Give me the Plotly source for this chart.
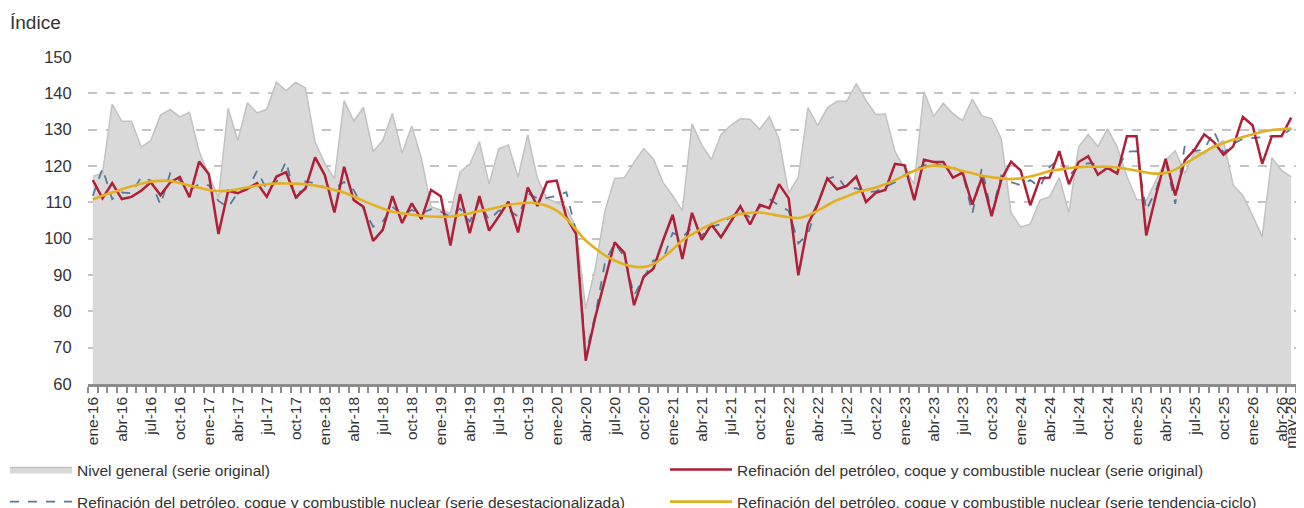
import plotly.graph_objects as go

# months ene-16 .. may-26
MESES = ["ene", "feb", "mar", "abr", "may", "jun", "jul", "ago", "sep", "oct", "nov", "dic"]
months = [f"{MESES[m]}-{y % 100:02d}" for y in range(2016, 2027) for m in range(12)][:125]

nivel_general = [
    117.1, 118, 137, 132.3, 132.3, 125.2, 127, 134, 135.6, 133.5, 134.8, 124,
    117.5, 111.2, 135.9, 127, 137.4, 134.6, 135.6, 143.1, 140.7, 143.1, 141.5, 126.5,
    120.8, 116.5, 138, 132.4, 136.1, 124, 127, 134.5, 123.5, 131, 122.1, 108.8,
    107.9, 107, 118.4, 120.5, 126.7, 115, 124.7, 125.8, 116.9, 128.6, 116.6, 111,
    110, 108.5, 103, 80.7, 92, 107.7, 116.6, 116.8, 121, 124.8, 122, 115.5,
    111.8, 107.7, 131.6, 125.8, 121.8, 128.6, 131.2, 133, 132.9, 130.1, 133.6, 127.4,
    112.5, 116.9, 136.1, 131.1, 136, 137.8, 137.8, 142.7, 138.1, 134.2, 134.3, 124,
    119.2, 115.1, 140.5, 133.6, 137.3, 134.4, 132.5, 138.4, 133.8, 133, 127.5, 107.2,
    103.2, 104, 110.6, 111.5, 116.8, 107.2, 125.2, 128.7, 125.4, 130.2, 125.2, 117.2,
    110.8, 110.5, 116, 121.6, 124.2, 117.9, 123.9, 123.4, 125.7, 126.9, 114.7, 111.9,
    106.4, 100.5, 122.3, 118.8, 117,
]

refino_original = [
    116.1, 111.1, 115.3, 110.9, 111.5, 113.2, 115.5, 112, 115.5, 117, 111.4, 121.2,
    117.8, 101.3, 113.2, 112.5, 113.8, 115.3, 111.5, 117.1, 118.3, 111.4, 113.8, 122.4,
    117.5, 107.2, 119.8, 110.6, 108.8, 99.4, 102.4, 111.7, 104.3, 109.7, 105.4, 113.4,
    111.7, 98.1, 112.3, 101.5, 111.7, 102.2, 106.1, 110.2, 101.7, 114.1, 109, 115.6,
    116, 105.9, 101.3, 66.4, 78.5, 89, 99, 96.1, 81.7, 89.6, 91.7, 99.5,
    106.6, 94.4, 107.1, 99.7, 103.9, 100.4, 104.8, 108.9, 103.9, 109.3, 108.4, 115,
    111.1, 89.9, 104, 109.5, 116.6, 113.6, 114.5, 117.1, 110.1, 112.6, 113.4, 120.6,
    120.2, 110.6, 121.7, 121.1, 121.1, 116.8, 118.2, 109.4, 116.8, 106.2, 116.2, 121.2,
    118.8, 109.2, 116.6, 116.8, 124.1, 115, 121.1, 122.7, 117.6, 119.5, 117.9, 128.2,
    128.2, 100.9, 111.9, 122, 111.9, 121.6, 124.5, 128.7, 126.6, 123.1, 125.4, 133.5,
    131.2, 120.6, 128.2, 128.2, 133.3,
]

refino_desest = [
    111.8, 119.3, 110.9, 112.7, 112.5, 116.9, 116, 109.3, 118, 116, 113.2, 115,
    114.7, 110.4, 108.6, 112.7, 113.5, 118.7, 113.5, 115.5, 121.3, 110.5, 115.8, 115.2,
    114.1, 113.8, 115.6, 113.4, 108.3, 103.3, 104.7, 108.8, 106.5, 107.9, 107, 108.1,
    107.4, 106.1, 108.3, 104.7, 110.2, 105.1, 107.7, 107.9, 106.1, 112.5, 111.1, 111.2,
    111.8, 112.8, 102, 68.1, 79, 93.5, 98.8, 95, 84.4, 89, 94, 94.1,
    101.6, 100.4, 103.1, 100.9, 103.3, 104, 106, 107.5, 105.9, 108.6, 110.9, 109.1,
    107.7, 98.7, 101.3, 109.5, 116.4, 117.3, 113.6, 113.9, 112.7, 113, 114.3, 115.5,
    117.6, 119, 120.1, 120.9, 120, 119.6, 118.3, 106.9, 119.5, 106.9, 117.4, 115.6,
    114.7, 116.1, 114.2, 119.7, 122, 117.4, 119.9, 120.8, 120.6, 119.3, 119.3, 123.9,
    124.1, 107.8, 113.3, 121.6, 109.6, 125.7, 124.1, 124.5, 129.6, 123.6, 126.1, 127.5,
    127.7, 128, 128.2, 128.2, 130.3,
]

refino_tendencia = [
    110.8, 111.8, 112.7, 113.6, 114.4, 115.1, 115.7, 115.9, 115.9, 115.3, 114.6, 114,
    113.4, 113.1, 113.2, 113.6, 114.1, 114.6, 115, 115.2, 115.2, 115.1, 115, 114.6,
    114.1, 113.4, 112.7, 111.6, 110.4, 109.3, 108.3, 107.4, 107, 106.6, 106.3, 106.1,
    106, 106.1, 106.5, 107, 107.6, 108.1, 108.7, 109.3, 109.7, 109.9, 109.7, 109,
    107.7, 105.5, 102.5, 99.5, 97.3, 95.4, 94, 92.9, 92.3, 92.2, 93, 94.8,
    97, 99.5, 101.2, 102.7, 104, 105.1, 106, 106.8, 107.1, 107.2, 106.8, 106.3,
    105.9, 105.7, 106.4, 107.7, 109.2, 110.6, 111.6, 112.7, 113.4, 114.1, 115, 116.1,
    117.4, 118.7, 119.6, 120.1, 119.9, 119.4, 118.6, 118, 117.3, 116.9, 116.6, 116.4,
    116.6, 117.1, 117.8, 118.6, 119, 119.4, 119.7, 119.8, 119.8, 119.8, 119.6, 119.2,
    118.7, 118.2, 117.9, 118.1, 119, 120.6, 122.2, 123.8, 125.3, 126.3, 127.2, 128,
    128.7, 129.4, 129.9, 130.2, 130.3,
]

FONT = "Liberation Sans"
TXT = "#333333"

x = list(range(len(months)))
# labels every quarter plus the last month
tick_idx = [i for i in x if i % 3 == 0] + [len(months) - 1]
tick_txt = [months[i] for i in tick_idx]

# page has an 8px body margin, so everything is laid out 8px up/left
L, T, R, B = 80, 49, 1289, 376
W, H = 1304, 508
def px(v):
    return (v - L) / (R - L)
def py(v):
    return (B - v) / (B - T)

fig = go.Figure()

fig.add_trace(go.Scatter(
    x=x, y=nivel_general, name="Nivel general (serie original)",
    mode="lines", fill="tozeroy", fillcolor="#d9d9d9",
    line=dict(color="#c2c2c2", width=1.5), legend="legend",
))
fig.add_trace(go.Scatter(
    x=x, y=refino_desest,
    name="Refinación del petróleo, coque y combustible nuclear (serie desestacionalizada)",
    mode="lines", line=dict(color="#58799e", width=1.8, dash="dash"), legend="legend3",
))
fig.add_trace(go.Scatter(
    x=x, y=refino_original,
    name="Refinación del petróleo, coque y combustible nuclear (serie original)",
    mode="lines", line=dict(color="#b01f35", width=2.5), legend="legend2",
))
fig.add_trace(go.Scatter(
    x=x, y=refino_tendencia,
    name="Refinación del petróleo, coque y combustible nuclear (serie tendencia-ciclo)",
    mode="lines", line=dict(color="#e2b020", width=2.6, shape="spline"), legend="legend4",
))

def leg(lx, ly):
    return dict(
        orientation="h", xref="paper", yref="paper",
        x=px(lx), y=py(ly), xanchor="left", yanchor="middle",
        itemwidth=62, font=dict(family=FONT, size=15.5, color=TXT),
        bgcolor="rgba(0,0,0,0)",
    )

fig.update_layout(
    width=W, height=H,
    margin=dict(l=L, r=W - R, t=T, b=H - B, autoexpand=False),
    paper_bgcolor="white", plot_bgcolor="white",
    font=dict(family=FONT, color=TXT),
    title=dict(text="Índice", xref="container", yref="container",
               x=2 / W, xanchor="left", y=1 - 14 / H, yanchor="middle",
               font=dict(family=FONT, size=19, color=TXT)),
    legend=leg(-3, 462),
    legend2=leg(657, 462),
    legend3=leg(-3, 494),
    legend4=leg(657, 494),
    showlegend=True,
)

fig.update_xaxes(
    range=[-0.5, len(months) - 0.4], automargin=False,
    tickmode="array", tickvals=tick_idx, ticktext=tick_txt,
    tickangle=-90, tickfont=dict(family=FONT, size=15.5, color=TXT),
    ticks="outside", ticklen=4, tickcolor="rgba(0,0,0,0)",
    minor=dict(tick0=-0.5, dtick=1, ticks="outside", ticklen=6, tickcolor="#8c8c8c", tickwidth=1.5, showgrid=False),
    showline=True, linecolor="#8c8c8c", linewidth=2.5,
    showgrid=False, zeroline=False,
)
fig.update_yaxes(
    range=[60, 150], dtick=10, automargin=False,
    tickfont=dict(family=FONT, size=16.5, color=TXT),
    ticks="outside", ticklen=12, tickcolor="rgba(0,0,0,0)",
    showgrid=True, gridcolor="#c4c4c4", griddash="dash", gridwidth=1.5,
    showline=False, zeroline=False,
)

fig.write_html("out.html")
